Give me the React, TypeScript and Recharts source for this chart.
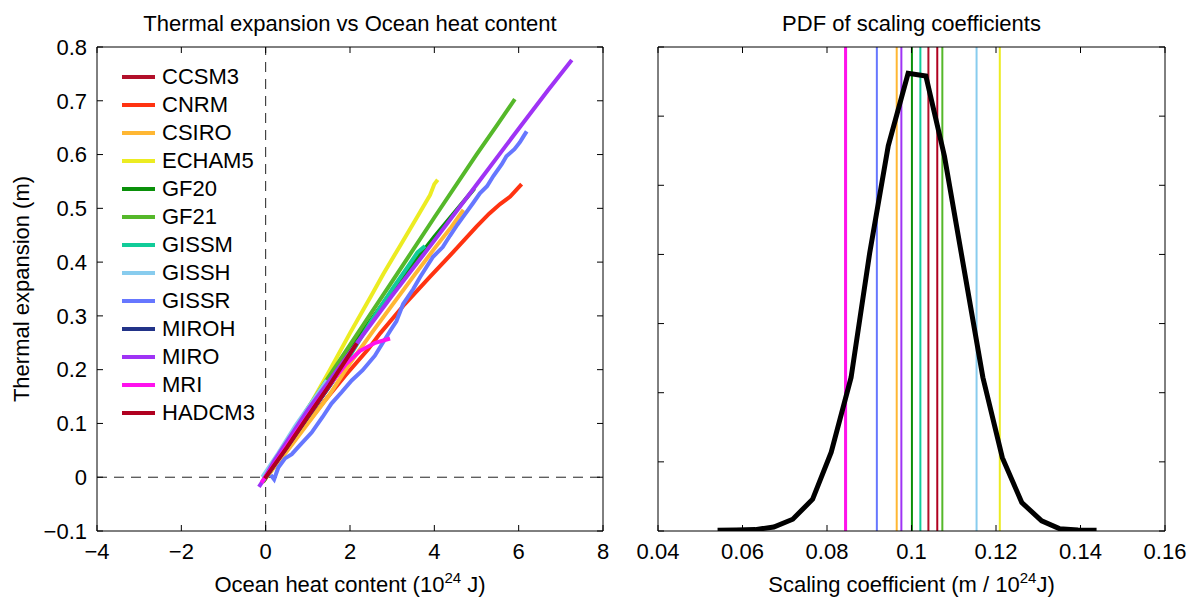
import { LineChart, Line, XAxis, YAxis, ReferenceLine } from "recharts";

const FONT = "'Liberation Sans', Arial, Helvetica, sans-serif";

// tick labels
const heatTicks = [-4, -2, 0, 2, 4, 6, 8];
const expansionTicks = [-0.1, 0, 0.1, 0.2, 0.3, 0.4, 0.5, 0.6, 0.7, 0.8];
const coefTicks = [0.04, 0.06, 0.08, 0.1, 0.12, 0.14, 0.16];
const densityTicks = [0, 5, 10, 15, 20, 25, 30, 35];

const modelNames = ["CCSM3", "CNRM", "CSIRO", "ECHAM5", "GF20", "GF21", "GISSM", "GISSH", "GISSR", "MIROH", "MIRO", "MRI", "HADCM3"];
const modelColors = ["#B2102A", "#FF3311", "#FFB733", "#ECEC22", "#0A900A", "#55B82A", "#11CC99", "#88CCEE", "#6677FF", "#223388", "#9F33F5", "#FF11EE", "#B00020"];

// [ocean heat content, thermal expansion]
const ccsm3 = [[-0.05, -0.006], [0.3, 0.03], [0.7, 0.078], [1.1, 0.124], [1.5, 0.168], [1.9, 0.214]];
const cnrm = [[-0.06, -0.008], [0.4, 0.042], [0.9, 0.092], [1.4, 0.142], [1.9, 0.19], [2.43, 0.238], [2.72, 0.268], [3.3, 0.322], [3.9, 0.373], [4.5, 0.423], [5.0, 0.466], [5.3, 0.49], [5.56, 0.508], [5.8, 0.522], [6.07, 0.545]];
const csiro = [[-0.06, -0.008], [0.5, 0.048], [1, 0.1], [1.5, 0.152], [2, 0.212], [2.55, 0.272], [3, 0.32], [3.5, 0.373], [4, 0.425], [4.4, 0.465], [4.69, 0.497]];
const echam5 = [[-0.08, -0.01], [0.4, 0.05], [1, 0.127], [1.5, 0.196], [2.0, 0.268], [2.5, 0.337], [2.79, 0.378], [3.2, 0.432], [3.6, 0.485], [3.9, 0.525], [4.0, 0.545], [4.08, 0.553]];
const gf20 = [[-0.06, -0.008], [0.5, 0.058], [1, 0.12], [2, 0.238], [3, 0.347], [4, 0.447], [4.95, 0.537]];
const gf21 = [[-0.06, -0.008], [0.5, 0.065], [1, 0.128], [2, 0.246], [3, 0.364], [4, 0.483], [5, 0.6], [5.5, 0.656], [5.91, 0.703]];
const gissm = [[-0.06, -0.006], [0.5, 0.057], [1, 0.113], [1.5, 0.168], [2, 0.226], [2.5, 0.29], [3, 0.35], [3.4, 0.395], [3.6, 0.418], [3.78, 0.43]];
const gissh = [[-0.08, 0.0], [0.3, 0.045], [0.7, 0.095], [1.1, 0.14], [1.45, 0.18]];
const gissr = [[0.12, 0.004], [0.2, -0.004], [0.3, 0.018], [0.46, 0.035], [0.62, 0.043], [0.77, 0.056], [1.09, 0.083], [1.35, 0.112], [1.56, 0.137], [1.8, 0.158], [2.04, 0.18], [2.3, 0.199], [2.59, 0.226], [2.95, 0.272], [3.1, 0.29], [3.26, 0.322], [3.5, 0.35], [3.66, 0.372], [3.97, 0.41], [4.2, 0.428], [4.37, 0.449], [4.55, 0.47], [4.69, 0.485], [4.92, 0.51], [5.08, 0.528], [5.25, 0.541], [5.4, 0.56], [5.6, 0.582], [5.71, 0.597], [5.9, 0.61], [6.03, 0.623], [6.1, 0.632], [6.19, 0.643]];
const miroh = [[-0.05, -0.005], [0.5, 0.055], [1, 0.112], [1.6, 0.18]];
const miro = [[-0.16, -0.018], [-0.05, -0.005], [0.2, 0.03], [1, 0.125], [2, 0.232], [3, 0.338], [4, 0.44], [5, 0.544], [6, 0.648], [6.7, 0.72], [7.26, 0.776]];
const mri = [[-0.1, -0.01], [0.3, 0.035], [0.6, 0.07], [1.0, 0.115], [1.5, 0.17], [1.9, 0.21], [2.24, 0.235], [2.6, 0.25], [2.95, 0.258]];
const hadcm3 = [[-0.02, -0.002], [0.5, 0.055], [1, 0.113], [1.5, 0.17], [2.16, 0.249]];

const modelRuns = [ccsm3, cnrm, csiro, echam5, gf20, gf21, gissm, gissh, gissr, miroh, miro, mri, hadcm3];

// scaling coefficient per model (null = not visible)
const modelCoefs = [0.104, 0.0844, 0.0965, 0.1209, 0.1001, 0.1073, 0.1021, 0.1154, 0.0918, null, 0.0976, 0.0844, 0.1061];

// PDF curve
const pdfX = [0.0541, 0.0585, 0.063, 0.0674, 0.0719, 0.0766, 0.081, 0.0857, 0.0901, 0.0945, 0.0992, 0.1034, 0.1078, 0.1124, 0.1169, 0.1215, 0.1261, 0.1308, 0.135, 0.1394, 0.1438];
const pdfY = [0.05, 0.07, 0.1, 0.29, 0.85, 2.3, 5.7, 11.1, 20.1, 27.85, 33.1, 32.9, 27.1, 19.0, 11.1, 5.3, 2.06, 0.73, 0.17, 0.07, 0.05];

const pdfData = pdfX.map((x, i) => ({ x, y: pdfY[i] }));
const toPoints = (arr: number[][]) => arr.map(([x, y]) => ({ x, y }));

const fmt = (v: number) => String(v).replace("-", "\u2212");
const tickStyle = { fontSize: 22, fill: "#000", fontFamily: FONT };
const blank = () => "";
const axisProps = { stroke: "#000", axisLine: { stroke: "#000", strokeWidth: 1 }, tickLine: { stroke: "#000" } };

const textStyle: React.CSSProperties = {
  position: "absolute",
  fontFamily: FONT,
  fontSize: 22,
  lineHeight: "26px",
  color: "#000",
  whiteSpace: "nowrap",
};
const supStyle: React.CSSProperties = { fontSize: 15, verticalAlign: "9px", lineHeight: 0 };

function Legend() {
  return (
    <div>
      {modelNames.map((name, i) => (
        <div key={name} style={{ position: "absolute", left: 122, top: 63 + i * 28, height: 28 }}>
          <div style={{ position: "absolute", left: 0, top: 12, width: 33, height: 4, background: modelColors[i] }} />
          <div style={{ ...textStyle, left: 40, top: 1 }}>{name}</div>
        </div>
      ))}
    </div>
  );
}

export default function App() {
  return (
    <div style={{ position: "absolute", left: 0, top: 0, width: 1198, height: 603, background: "#fff", fontFamily: FONT }}>
      <div style={{ position: "absolute", left: 0, top: 0 }}>
        <LineChart width={620} height={603} margin={{ top: 46, right: 16, bottom: 42, left: 57 }}>
          <XAxis xAxisId="b" type="number" dataKey="x" domain={[-4, 8]} ticks={heatTicks} allowDataOverflow
            height={30} tickSize={-6} tickMargin={18} tick={tickStyle} tickFormatter={fmt} {...axisProps} />
          <XAxis xAxisId="t" orientation="top" type="number" dataKey="x" domain={[-4, 8]} ticks={heatTicks} allowDataOverflow
            height={1} tickSize={-6} tickFormatter={blank} {...axisProps} />
          <YAxis yAxisId="l" type="number" domain={[-0.1, 0.8]} ticks={expansionTicks} allowDataOverflow
            width={40} tickSize={-6} tickMargin={16} tick={tickStyle} tickFormatter={fmt} {...axisProps} />
          <YAxis yAxisId="r" orientation="right" type="number" domain={[-0.1, 0.8]} ticks={expansionTicks} allowDataOverflow
            width={1} tickSize={-6} tickFormatter={blank} {...axisProps} />
          <ReferenceLine xAxisId="b" yAxisId="l" x={0} stroke="#222" strokeDasharray="10 7" strokeWidth={1} />
          <ReferenceLine xAxisId="b" yAxisId="l" y={0} stroke="#222" strokeDasharray="10 7" strokeWidth={1} />
          {modelRuns.map((run, i) => (
            <Line key={modelNames[i]} xAxisId="b" yAxisId="l" data={toPoints(run)} dataKey="y" type="linear"
              stroke={modelColors[i]} strokeWidth={4} dot={false} isAnimationActive={false} />
          ))}
        </LineChart>
      </div>

      <div style={{ position: "absolute", left: 620, top: 0 }}>
        <LineChart width={578} height={603} data={pdfData} margin={{ top: 46, right: 32, bottom: 42, left: 8 }}>
          <XAxis xAxisId="b" type="number" dataKey="x" domain={[0.04, 0.16]} ticks={coefTicks} allowDataOverflow
            height={30} tickSize={-6} tickMargin={18} tick={tickStyle} tickFormatter={fmt} {...axisProps} />
          <XAxis xAxisId="t" orientation="top" type="number" dataKey="x" domain={[0.04, 0.16]} ticks={coefTicks} allowDataOverflow
            height={1} tickSize={-6} tickFormatter={blank} {...axisProps} />
          <YAxis yAxisId="l" type="number" domain={[0, 35]} ticks={densityTicks} allowDataOverflow
            width={30} tickSize={-6} tickFormatter={blank} {...axisProps} />
          <YAxis yAxisId="r" orientation="right" type="number" domain={[0, 35]} ticks={densityTicks} allowDataOverflow
            width={1} tickSize={-6} tickFormatter={blank} {...axisProps} />
          {modelCoefs.map((c, i) =>
            c === null ? null : (
              <ReferenceLine key={modelNames[i]} xAxisId="b" yAxisId="l" x={c} stroke={modelColors[i]}
                strokeWidth={modelNames[i] === "MRI" ? 3 : 2} />
            )
          )}
          <Line xAxisId="b" yAxisId="l" dataKey="y" type="linear" stroke="#000" strokeWidth={5}
            dot={false} isAnimationActive={false} />
        </LineChart>
      </div>

      <Legend />

      <div style={{ ...textStyle, left: 97, width: 506, top: 11, textAlign: "center" }}>
        Thermal expansion vs Ocean heat content
      </div>
      <div style={{ ...textStyle, left: 658, width: 507, top: 11, textAlign: "center" }}>
        PDF of scaling coefficients
      </div>
      <div style={{ ...textStyle, left: 97, width: 506, top: 572, textAlign: "center" }}>
        Ocean heat content (10<span style={supStyle}>24</span> J)
      </div>
      <div style={{ ...textStyle, left: 658, width: 507, top: 572, textAlign: "center" }}>
        Scaling coefficient (m / 10<span style={supStyle}>24</span>J)
      </div>
      <div style={{ ...textStyle, left: 22 - 200, top: 289 - 13, width: 400, height: 26, textAlign: "center", transform: "rotate(-90deg)" }}>
        Thermal expansion (m)
      </div>
    </div>
  );
}
